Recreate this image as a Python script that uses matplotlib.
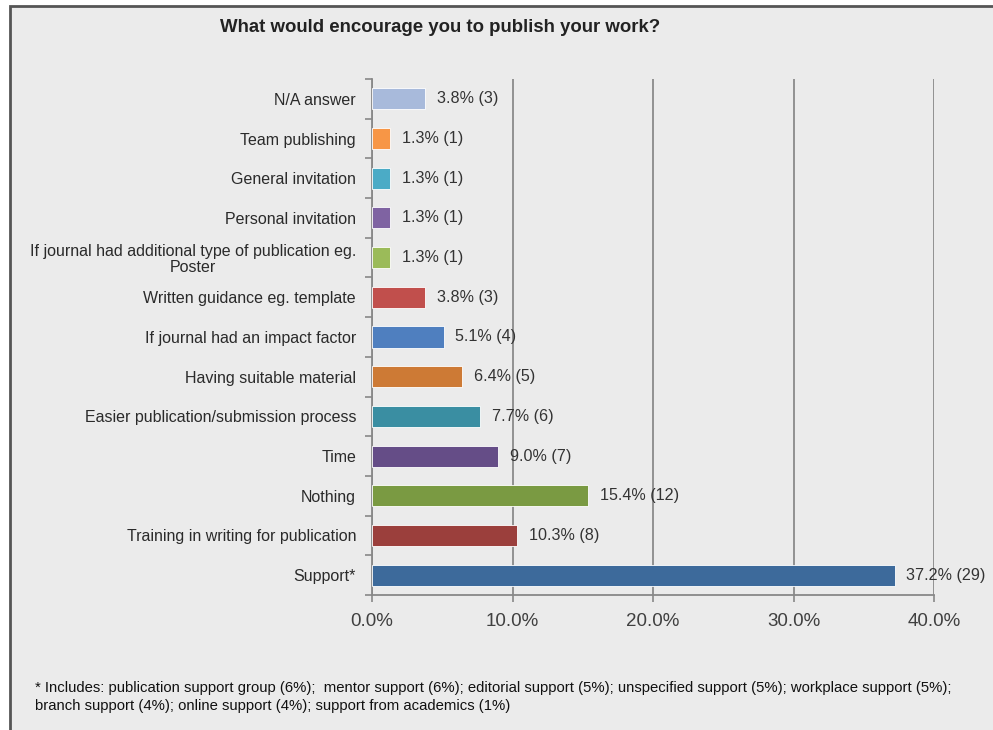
import matplotlib.pyplot as plt
from matplotlib.patches import Rectangle
from matplotlib.ticker import FixedLocator, FuncFormatter

categories = [
    "Support*",
    "Training in writing for publication",
    "Nothing",
    "Time",
    "Easier publication/submission process",
    "Having suitable material",
    "If journal had an impact factor",
    "Written guidance eg. template",
    "If journal had additional type of publication eg.\nPoster",
    "Personal invitation",
    "General invitation",
    "Team publishing",
    "N/A answer",
]
percents = [37.2, 10.3, 15.4, 9.0, 7.7, 6.4, 5.1, 3.8, 1.3, 1.3, 1.3, 1.3, 3.8]
counts = [29, 8, 12, 7, 6, 5, 4, 3, 1, 1, 1, 1, 3]
colors = ["#3d6a9b", "#9b3f3c", "#7a9a42", "#654d87", "#3a8ea2", "#cd7a35",
          "#4f7fbf", "#c14f4c", "#9bbb59", "#7f63a2", "#4babc6", "#f79646", "#a8badb"]
xticks = [0, 10, 20, 30, 40]
footnote = ("* Includes: publication support group (6%);  mentor support (6%); editorial support (5%); "
            "unspecified support (5%); workplace support (5%);\n"
            "branch support (4%); online support (4%); support from academics (1%)")

plt.rcParams['font.family'] = ['Liberation Sans', 'DejaVu Sans']
bg = "#ebebeb"

fig = plt.figure(figsize=(9.93, 7.30), dpi=100, facecolor="white")
fig.patches.append(Rectangle((10 / 993, -0.1), 1.2, 1 - 6 / 730 + 0.1, transform=fig.transFigure,
                             facecolor=bg, edgecolor="#555555", linewidth=2, zorder=-5))

ax = fig.add_axes([372 / 993, 1 - 595 / 730, 562 / 993, 516 / 730])
ax.set_facecolor(bg)
ypos = list(range(len(categories)))
ax.barh(ypos, percents, height=0.53, color=colors, edgecolor="white", linewidth=0.6, zorder=3)

for y, p, c in zip(ypos, percents, counts):
    ax.annotate(f"{p:.1f}% ({c})", (p, y), xytext=(8.5, 0), textcoords="offset points",
                va="center", ha="left", fontsize=11.6, color="#333333", zorder=4)

ax.set_xlim(0, 40)
ax.set_ylim(-0.5, len(categories) - 0.5)
ax.set_xticks(xticks)
ax.xaxis.set_major_formatter(FuncFormatter(lambda v, _: f"{v:.1f}%"))
ax.tick_params(axis="x", labelsize=13.5, labelcolor="#404040", color="#888888",
               length=5, width=1.2, direction="out", pad=8)
ax.grid(axis="x", color="#8a8a8a", linewidth=1.3, zorder=1)

ax.set_yticks(ypos)
ax.set_yticklabels(categories)
ax.yaxis.set_minor_locator(FixedLocator([i - 0.5 for i in range(len(categories) + 1)]))
ax.tick_params(axis="y", which="major", length=0, pad=11.5, labelsize=11.5, labelcolor="#2a2a2a")
ax.tick_params(axis="y", which="minor", length=5, width=1.2, color="#888888")
for lab in ax.get_yticklabels():
    lab.set_multialignment("center")
    lab.set_linespacing(1.1)

for s in ["top", "right"]:
    ax.spines[s].set_visible(False)
for s in ["left", "bottom"]:
    ax.spines[s].set_color("#888888")
    ax.spines[s].set_linewidth(1.3)

fig.text(440 / 993, 1 - 28 / 730, "What would encourage you to publish your work?", ha="center",
         va="center", fontsize=13.4, fontweight="bold", color="#222222")
fig.text(35 / 993, 1 - 697 / 730, footnote, ha="left", va="center", fontsize=10.7,
         color="#111111", linespacing=1.3)

fig.savefig("out.png", dpi=100, facecolor=fig.get_facecolor())
